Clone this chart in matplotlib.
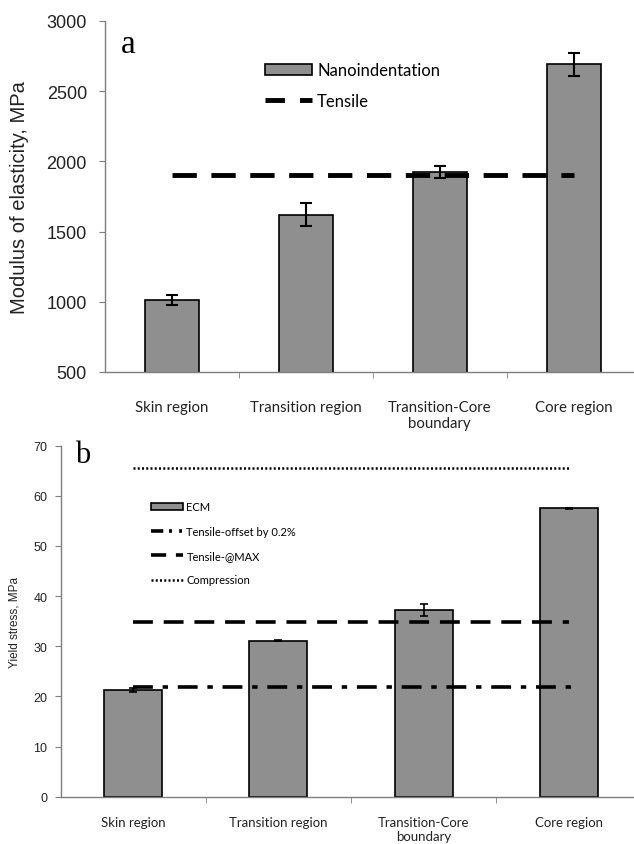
import matplotlib.pyplot as plt
from matplotlib.lines import Line2D
import numpy as np

# data
regions = ['Skin region', 'Transition region', 'Transition-Core\nboundary', 'Core region']

modulus = [1015, 1620, 1925, 2690]
modulus_err = [35, 80, 45, 80]
tensile_modulus = 1900

ecm = [21.2, 31.1, 37.2, 57.5]
ecm_err = [0.4, 0.1, 1.2, 0.1]
tensile_offset = 21.8
tensile_max = 34.8
compression = 65.5

bar_color = '#8f8f8f'
spine_color = '#7f7f7f'
cat_font = 'Lato'
num_font = 'Liberation Sans'

fig = plt.figure(figsize=(6.34, 8.45), dpi=100)

x = np.arange(len(regions))


def style_axes(ax, tick_size, tick_pad, cat_size, cat_pad):
    for s in ['top', 'right']:
        ax.spines[s].set_visible(False)
    for s in ['left', 'bottom']:
        ax.spines[s].set_color(spine_color)
        ax.spines[s].set_linewidth(1.0)
    ax.set_xlim(-0.5, 3.45)
    ax.set_xticks(x)
    ax.set_xticklabels(regions, fontsize=cat_size, family=cat_font, color='#222222')
    ax.tick_params(axis='x', which='major', length=0, pad=cat_pad)
    ax.set_xticks([0.5, 1.5, 2.5], minor=True)
    ax.tick_params(axis='x', which='minor', length=4, direction='out', color=spine_color)
    ax.tick_params(axis='y', length=4, direction='out', color=spine_color,
                   labelsize=tick_size, pad=tick_pad)
    for lab in ax.get_yticklabels():
        lab.set_family(num_font)
        lab.set_color('#222222')


# panel a
ax1 = fig.add_axes([0.1656, 0.5586, 0.8344, 0.4154])
bars1 = ax1.bar(x, modulus, width=0.4, color=bar_color, edgecolor='black',
                linewidth=1.2, label='Nanoindentation', zorder=2)
ax1.errorbar(x, modulus, yerr=modulus_err, fmt='none', ecolor='black',
             elinewidth=1.5, capsize=4, capthick=1.5, zorder=3)
ax1.plot([x[0], x[-1]], [tensile_modulus, tensile_modulus], color='black',
         lw=3.5, dashes=(5, 3), zorder=4)
ax1.set_ylim(500, 3000)
ax1.set_yticks(np.arange(500, 3001, 500))
style_axes(ax1, 13, 9, 10.8, 20)
ax1.set_ylabel('Modulus of elasticity, MPa', fontsize=14.5, family=num_font,
               color='#222222', labelpad=13)
ax1.text(0.03, 0.935, 'a', transform=ax1.transAxes, fontsize=24,
         family='Liberation Serif', va='center')
tens_h = Line2D([], [], color='black', lw=3.5, dashes=(4.0, 3.1), label='Tensile')
ax1.legend(handles=[bars1, tens_h], loc='upper left', bbox_to_anchor=(0.275, 0.925),
           frameon=False, prop={'family': cat_font, 'size': 12}, handlelength=2.8,
           handletextpad=0.3, labelspacing=0.9)

# panel b
ax2 = fig.add_axes([0.0957, 0.056, 0.9043, 0.4154])
bars2 = ax2.bar(x, ecm, width=0.4, color=bar_color, edgecolor='black',
                linewidth=1.2, label='ECM', zorder=2)
ax2.errorbar(x, ecm, yerr=ecm_err, fmt='none', ecolor='black',
             elinewidth=1.2, capsize=3, capthick=1.2, zorder=3)
ax2.plot([x[0], x[-1] + 0.02], [tensile_offset, tensile_offset], color='black',
         lw=2.6, dashes=(5.5, 2.7, 1.5, 2.7), zorder=4)
ax2.plot([x[0], x[-1]], [tensile_max, tensile_max], color='black',
         lw=2.6, dashes=(5.5, 3), zorder=4)
ax2.plot([x[0], x[-1]], [compression, compression], color='black',
         lw=1.8, dashes=(0.8, 0.9), zorder=4)
ax2.set_ylim(0, 70)
ax2.set_yticks(np.arange(0, 71, 10))
style_axes(ax2, 9, 5.5, 9.5, 14)
ax2.set_ylabel('Yield stress, MPa', fontsize=8.5, family=num_font,
               color='#222222', labelpad=9)
ax2.text(0.025, 0.975, 'b', transform=ax2.transAxes, fontsize=22,
         family='Liberation Serif', va='center')
off_h = Line2D([], [], color='black', lw=2.6, dashes=(3.4, 1.6, 0.8, 2.0, 0.8, 1.6),
               label='Tensile-offset by 0.2%')
max_h = Line2D([], [], color='black', lw=2.6, dashes=(4.2, 2.7), label='Tensile-@MAX')
comp_h = Line2D([], [], color='black', lw=1.8, dashes=(0.8, 0.9), label='Compression')
ax2.legend(handles=[bars2, off_h, max_h, comp_h], loc='upper left',
           bbox_to_anchor=(0.14, 0.87), frameon=False,
           prop={'family': cat_font, 'size': 8}, handlelength=2.9, handleheight=0.5,
           handletextpad=0.3, labelspacing=1.2)

fig.savefig('out.png', dpi=100)
